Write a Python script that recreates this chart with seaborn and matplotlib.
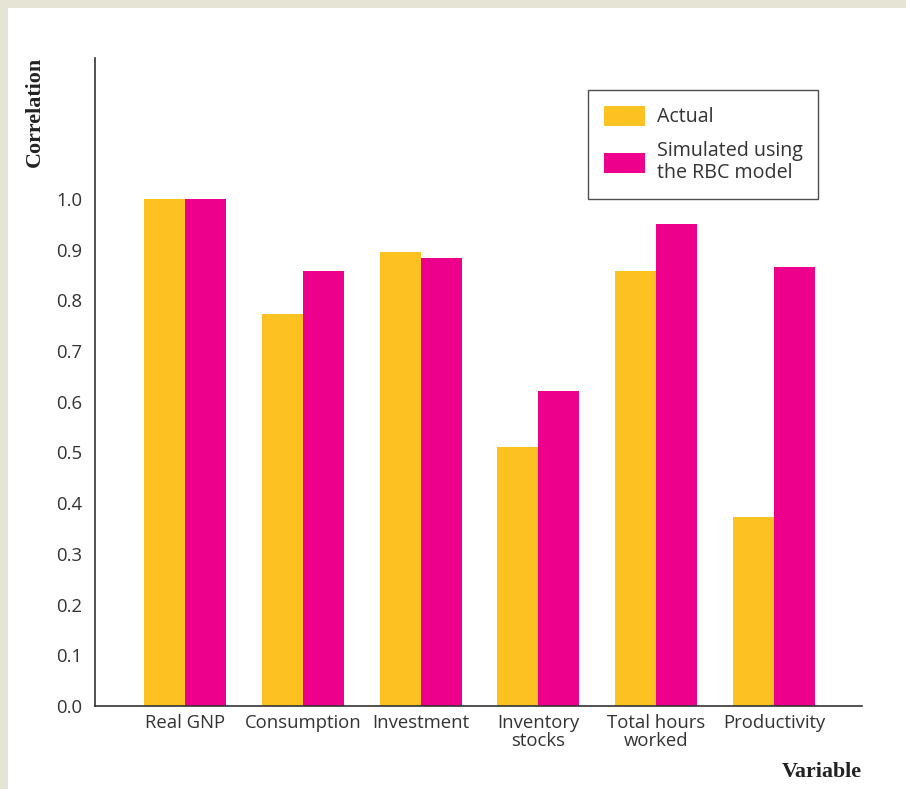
import matplotlib
matplotlib.use("Agg")
import matplotlib.pyplot as plt
import seaborn as sns
import pandas as pd
from matplotlib.patches import Rectangle

categories = ["Real GNP", "Consumption", "Investment", "Inventory\nstocks", "Total hours\nworked", "Productivity"]
actual = [1.00, 0.773, 0.895, 0.510, 0.858, 0.373]
simulated = [1.00, 0.858, 0.884, 0.621, 0.951, 0.866]
series_names = ["Actual", "Simulated using\nthe RBC model"]
yticks = [0.0, 0.1, 0.2, 0.3, 0.4, 0.5, 0.6, 0.7, 0.8, 0.9, 1.0]
colors = ["#FDC221", "#EC008C"]

df = pd.DataFrame({
    "Variable": categories * 2,
    "Correlation": actual + simulated,
    "Series": [series_names[0]] * len(categories) + [series_names[1]] * len(categories),
})

sns.set_style("white")
plt.rcParams["font.family"] = ["Open Sans", "DejaVu Sans"]

W, H = 906, 789
fig = plt.figure(figsize=(W / 100, H / 100), dpi=100, facecolor="#E6E5D5")
fig.patches.append(Rectangle((8 / W, 0), 1, 1 - 8 / H, transform=fig.transFigure,
                             facecolor="white", edgecolor="none", zorder=-10))
ax = fig.add_axes([95 / W, 1 - 706 / H, (862 - 95) / W, (706 - 58) / H])
ax.set_zorder(1)
ax.set_facecolor("white")

sns.barplot(data=df, x="Variable", y="Correlation", hue="Series", order=categories,
            hue_order=series_names, palette=colors, width=0.696, saturation=1,
            linewidth=0, ax=ax)

ax.set_xlim(-0.764, 5.747)
ax.set_ylim(0, 1.278)
ax.set_yticks(yticks)
ax.set_yticklabels([f"{v:.1f}" for v in yticks])
ax.set_xlabel("")
ax.set_ylabel("")
ax.tick_params(axis="both", length=0, labelsize=13.3, colors="#333333")
ax.tick_params(axis="y", pad=9)
ax.tick_params(axis="x", pad=6)
for lab in ax.get_xticklabels():
    lab.set_linespacing(0.95)
    lab.set_verticalalignment("top")

for s in ["top", "right"]:
    ax.spines[s].set_visible(False)
for s in ["left", "bottom"]:
    ax.spines[s].set_color("#333333")
    ax.spines[s].set_linewidth(1.2)

fig.text(35 / W, 1 - 112 / H, "Correlation", rotation=90, ha="center", va="center",
         fontsize=15.8, fontweight="bold", family=["Liberation Serif"], color="#222222")
fig.text(862 / W, 1 - 772 / H, "Variable", ha="right", va="center",
         fontsize=15.8, fontweight="bold", family=["Liberation Serif"], color="#222222")

leg = ax.legend(loc="upper left", bbox_to_anchor=(588 / W, 1 - 90 / H),
                bbox_transform=fig.transFigure, frameon=True, fancybox=False,
                fontsize=14.1, handlelength=2.1, handleheight=1.2, handletextpad=0.6,
                borderpad=0.8, labelspacing=0.7, borderaxespad=0, title=None)
leg.get_frame().set_edgecolor("#222222")
leg.get_frame().set_linewidth(1.0)
for t in leg.get_texts():
    t.set_color("#333333")
    t.set_linespacing(1.15)

fig.savefig("out.png", dpi=100, facecolor=fig.get_facecolor())
